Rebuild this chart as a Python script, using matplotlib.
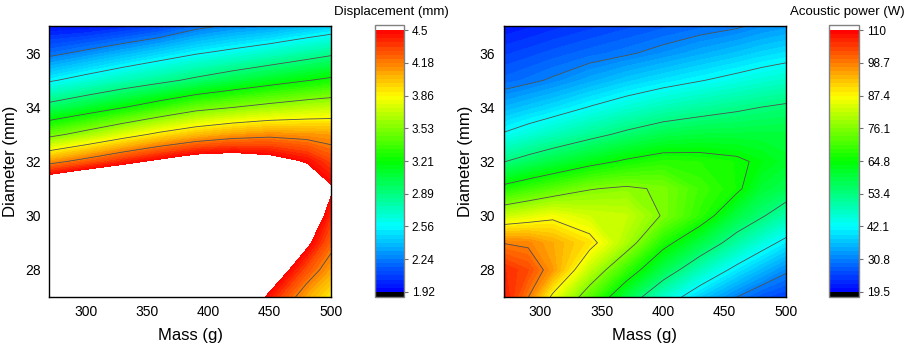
import numpy as np
import matplotlib
matplotlib.use('Agg')
import matplotlib.pyplot as plt
from matplotlib.colors import LinearSegmentedColormap

plt.rcParams['font.family'] = ['Liberation Sans', 'DejaVu Sans']

# grid (rows = diameter 27 -> 37 mm)
diameter = [27, 28, 29, 30, 31, 32, 33, 34, 35, 36, 37]

mass_disp = [270, 300, 330, 360, 390, 420, 450, 480, 500]
displacement = [
    [5.80, 5.80, 5.80, 5.50, 5.20, 4.85, 4.43, 4.07, 3.88],
    [5.80, 5.80, 5.80, 5.50, 5.30, 4.95, 4.70, 4.29, 4.08],
    [5.60, 5.70, 5.80, 5.50, 5.30, 5.00, 4.90, 4.54, 4.24],
    [5.30, 5.40, 5.50, 5.30, 5.20, 5.00, 4.90, 4.75, 4.38],
    [4.86, 5.01, 5.07, 5.00, 5.00, 4.90, 4.80, 4.77, 4.52],
    [4.11, 4.25, 4.40, 4.53, 4.65, 4.67, 4.60, 4.47, 4.32],
    [3.47, 3.61, 3.76, 3.90, 4.01, 4.09, 4.13, 4.11, 4.09],
    [2.965, 3.08, 3.20, 3.33, 3.46, 3.53, 3.60, 3.66, 3.69],
    [2.54, 2.64, 2.74, 2.83, 2.93, 3.03, 3.12, 3.20, 3.25],
    [2.20, 2.28, 2.37, 2.46, 2.55, 2.62, 2.70, 2.79, 2.85],
    [1.95, 1.96, 2.01, 2.08, 2.20, 2.27, 2.31, 2.39, 2.44],
]

mass_power = [270, 290, 310, 340, 370, 400, 430, 460, 480, 500]
power = [
    [108.0, 98.8, 86.0, 72.0, 58.5, 46.5, 37.7, 30.8, 27.0, 25.0],
    [106.0, 103.0, 96.0, 81.5, 69.1, 57.6, 48.1, 40.2, 35.8, 31.7],
    [98.5, 97.7, 94.5, 89.5, 79.5, 67.0, 58.6, 50.1, 44.9, 40.4],
    [82.0, 84.0, 86.1, 83.1, 82.0, 75.5, 68.5, 58.7, 54.2, 49.3],
    [66.8, 69.5, 72.0, 75.7, 77.0, 75.3, 70.0, 66.0, 60.0, 57.5],
    [53.2, 56.1, 58.8, 62.6, 65.7, 68.0, 67.5, 66.0, 63.5, 61.0],
    [42.7, 45.3, 47.8, 51.4, 54.9, 57.9, 59.2, 59.4, 59.5, 59.5],
    [35.2, 37.1, 39.0, 42.4, 45.5, 48.3, 50.4, 52.3, 53.5, 54.5],
    [28.5, 29.8, 31.4, 34.4, 37.3, 39.7, 41.8, 44.0, 45.5, 46.8],
    [24.8, 25.9, 27.1, 28.7, 30.2, 32.3, 34.6, 36.7, 38.3, 39.5],
    [21.0, 22.0, 23.1, 24.6, 26.1, 27.5, 28.9, 30.2, 31.8, 33.0],
]

disp_ticks = ['1.92', '2.24', '2.56', '2.89', '3.21', '3.53', '3.86', '4.18', '4.5']
power_ticks = ['19.5', '30.8', '42.1', '53.4', '64.8', '76.1', '87.4', '98.7', '110']

cmap = LinearSegmentedColormap.from_list(
    'rainbow5', ['#0000ff', '#00ffff', '#00ff00', '#ffff00', '#ff0000'], N=256)
cmap.set_over('white')
cmap.set_under('black')

fig = plt.figure(figsize=(9.1, 3.47), dpi=100)


def panel(ax_rect, cb_rect, mass, z, lo, hi, ticklabels, title, title_x):
    ax = fig.add_axes(ax_rect)
    cax = fig.add_axes(cb_rect)
    X, Y = np.meshgrid(mass, diameter)
    Z = np.array(z)
    fill_levels = np.linspace(lo, hi, 65)
    line_levels = np.linspace(lo, hi, 9)[1:-1]
    cs = ax.contourf(X, Y, Z, levels=fill_levels, cmap=cmap, extend='both')
    ax.contour(X, Y, Z, levels=line_levels, colors='#505050', linewidths=0.6)
    ax.set_xlim(270, 500)
    ax.set_ylim(27, 37)
    ax.set_xticks([300, 350, 400, 450, 500])
    ax.set_yticks([28, 30, 32, 34, 36])
    ax.tick_params(length=0, pad=6, labelsize=10)
    for s in ax.spines.values():
        s.set_linewidth(1.0)
    ax.set_xlabel('Mass (g)', fontsize=12, labelpad=6)
    ax.set_ylabel('Diameter (mm)', fontsize=12, labelpad=5)

    cb = fig.colorbar(cs, cax=cax, extend='both', extendrect=True,
                      extendfrac=0.02, drawedges=False)
    cb.set_ticks(np.linspace(lo, hi, 9))
    cb.set_ticklabels(ticklabels)
    cb.ax.tick_params(length=3, width=0.8, color='#707070', labelsize=8.5, pad=3)
    cb.outline.set_edgecolor('#808080')
    cb.outline.set_linewidth(1.0)
    fig.text(title_x, 0.965, title, ha='right', va='center', fontsize=9.5)


panel([49 / 910, 50 / 347, 282 / 910, 271 / 347],
      [375 / 910, 50 / 347, 28.5 / 910, 272 / 347],
      mass_disp, displacement, 1.92, 4.5, disp_ticks,
      'Displacement (mm)', 449 / 910)
panel([503.7 / 910, 50 / 347, 282.3 / 910, 271 / 347],
      [829.3 / 910, 50 / 347, 29.5 / 910, 272 / 347],
      mass_power, power, 19.5, 110, power_ticks,
      'Acoustic power (W)', 905 / 910)

fig.savefig('out.png', dpi=100)
